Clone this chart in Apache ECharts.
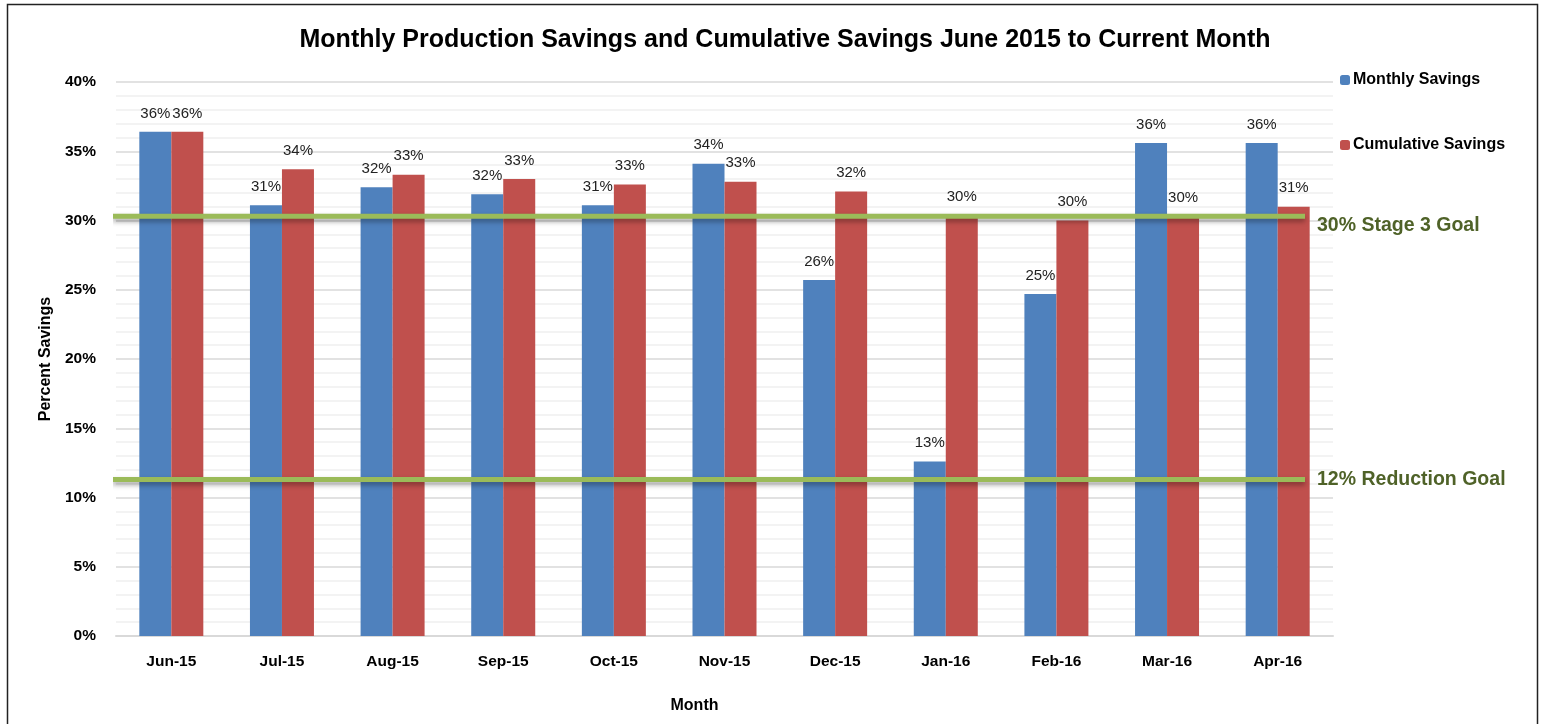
<!DOCTYPE html>
<html lang="en">
<head>
    <meta charset="UTF-8">
    <script src="https://cdn.jsdelivr.net/npm/echarts@6/dist/echarts.min.js"></script>
    <style>
        body, html {
            margin: 0;
            height: 100%;
            background: #fff;
        }

        #main {
            width: 1541px;
            height: 724px;
        }
    </style>
    <title>Monthly Production Savings</title>
</head>
<body>

<div id="main"></div>
<script type="text/javascript">
    const myChart = echarts.init(document.getElementById('main'));

    const months = ['Jun-15', 'Jul-15', 'Aug-15', 'Sep-15', 'Oct-15', 'Nov-15',
        'Dec-15', 'Jan-16', 'Feb-16', 'Mar-16', 'Apr-16'];
    const monthlySavings = [36.4, 31.1, 32.4, 31.9, 31.1, 34.1, 25.7, 12.6, 24.7, 35.6, 35.6];
    const cumulativeSavings = [36.4, 33.7, 33.3, 33.0, 32.6, 32.8, 32.1, 30.4, 30.0, 30.3, 31.0];
    // goal lines, placed where the picture draws them
    const goalValues = [30.3, 11.3];
    const goalLabels = ['30% Stage 3 Goal', '12% Reduction Goal'];

    const font = '"Liberation Sans", Arial, sans-serif';
    const goalGreen = '#9BBB59';
    const goalText = '#4F6228';
    const goalLabelOffsets = [[0, 9], [0, 0]];

    // goal line spans along a hidden 0..1 axis over the plot width
    const goalSeries = goalValues.map(function (v, i) {
        return {
            name: goalLabels[i],
            type: 'line',
            xAxisIndex: 1,
            symbol: 'none',
            silent: true,
            z: 10,
            data: [[-0.003, v], [0.977, v]],
            lineStyle: {
                color: goalGreen,
                width: 5,
                shadowColor: 'rgba(0,0,0,0.35)',
                shadowBlur: 5,
                shadowOffsetY: 3
            },
            endLabel: {
                show: true,
                formatter: goalLabels[i],
                color: goalText,
                fontFamily: font,
                fontWeight: 'bold',
                fontSize: 19.5,
                distance: 12,
                offset: goalLabelOffsets[i]
            }
        };
    });

    const barLabel = {
        show: true,
        position: 'top',
        distance: 11,
        color: '#222',
        fontFamily: font,
        fontSize: 15,
        formatter: function (p) {
            return Math.round(p.value) + '%';
        }
    };

    const option = {
        animation: false,
        backgroundColor: '#fff',
        title: {
            text: 'Monthly Production Savings and Cumulative Savings June 2015 to Current Month',
            left: 780,
            textAlign: 'center',
            top: 23,
            textStyle: {
                fontFamily: font,
                fontWeight: 'bold',
                fontSize: 25,
                color: '#000'
            }
        },
        legend: {
            orient: 'vertical',
            left: 1335,
            top: 67,
            itemGap: 49,
            itemWidth: 10,
            itemHeight: 10,
            data: ['Monthly Savings', 'Cumulative Savings'],
            textStyle: {
                fontFamily: font,
                fontWeight: 'bold',
                fontSize: 16,
                color: '#000',
                padding: [0, 0, 0, -2]
            }
        },
        grid: {
            left: 116,
            right: 208,
            top: 82,
            bottom: 88
        },
        xAxis: [{
            type: 'category',
            data: months,
            name: 'Month',
            nameLocation: 'middle',
            nameGap: 62,
            nameTextStyle: {
                fontFamily: font,
                fontWeight: 'bold',
                fontSize: 16,
                color: '#000',
                padding: [0, 60, 0, 0]
            },
            axisLine: {lineStyle: {color: '#d9d9d9', width: 2}},
            axisTick: {show: false},
            axisLabel: {
                fontFamily: font,
                fontWeight: 'bold',
                fontSize: 15.5,
                color: '#000',
                margin: 18
            }
        }, {
            type: 'value',
            min: 0,
            max: 1,
            show: false
        }],
        yAxis: {
            type: 'value',
            min: 0,
            max: 40,
            interval: 5,
            name: 'Percent Savings',
            nameLocation: 'middle',
            nameGap: 62,
            nameTextStyle: {
                fontFamily: font,
                fontWeight: 'bold',
                fontSize: 16,
                color: '#000'
            },
            axisLine: {show: false},
            axisTick: {show: false},
            axisLabel: {
                formatter: '{value}%',
                fontFamily: font,
                fontWeight: 'bold',
                fontSize: 15.5,
                color: '#000',
                margin: 20
            },
            splitLine: {lineStyle: {color: '#d9d9d9', width: 1.5}},
            minorTick: {show: false, splitNumber: 5},
            minorSplitLine: {show: true, lineStyle: {color: '#f0f0f0', width: 1.5}}
        },
        graphic: [{
            type: 'rect',
            shape: {x: 7.5, y: 4.5, width: 1530, height: 730},
            style: {fill: 'none', stroke: '#222', lineWidth: 1.5},
            silent: true
        }],
        series: [{
            name: 'Monthly Savings',
            type: 'bar',
            data: monthlySavings,
            barWidth: 32,
            barGap: '0%',
            itemStyle: {color: '#4F81BD'},
            label: barLabel
        }, {
            name: 'Cumulative Savings',
            type: 'bar',
            data: cumulativeSavings,
            barWidth: 32,
            itemStyle: {color: '#C0504D'},
            label: barLabel
        }].concat(goalSeries)
    };

    myChart.setOption(option);
</script>
</body>
</html>
